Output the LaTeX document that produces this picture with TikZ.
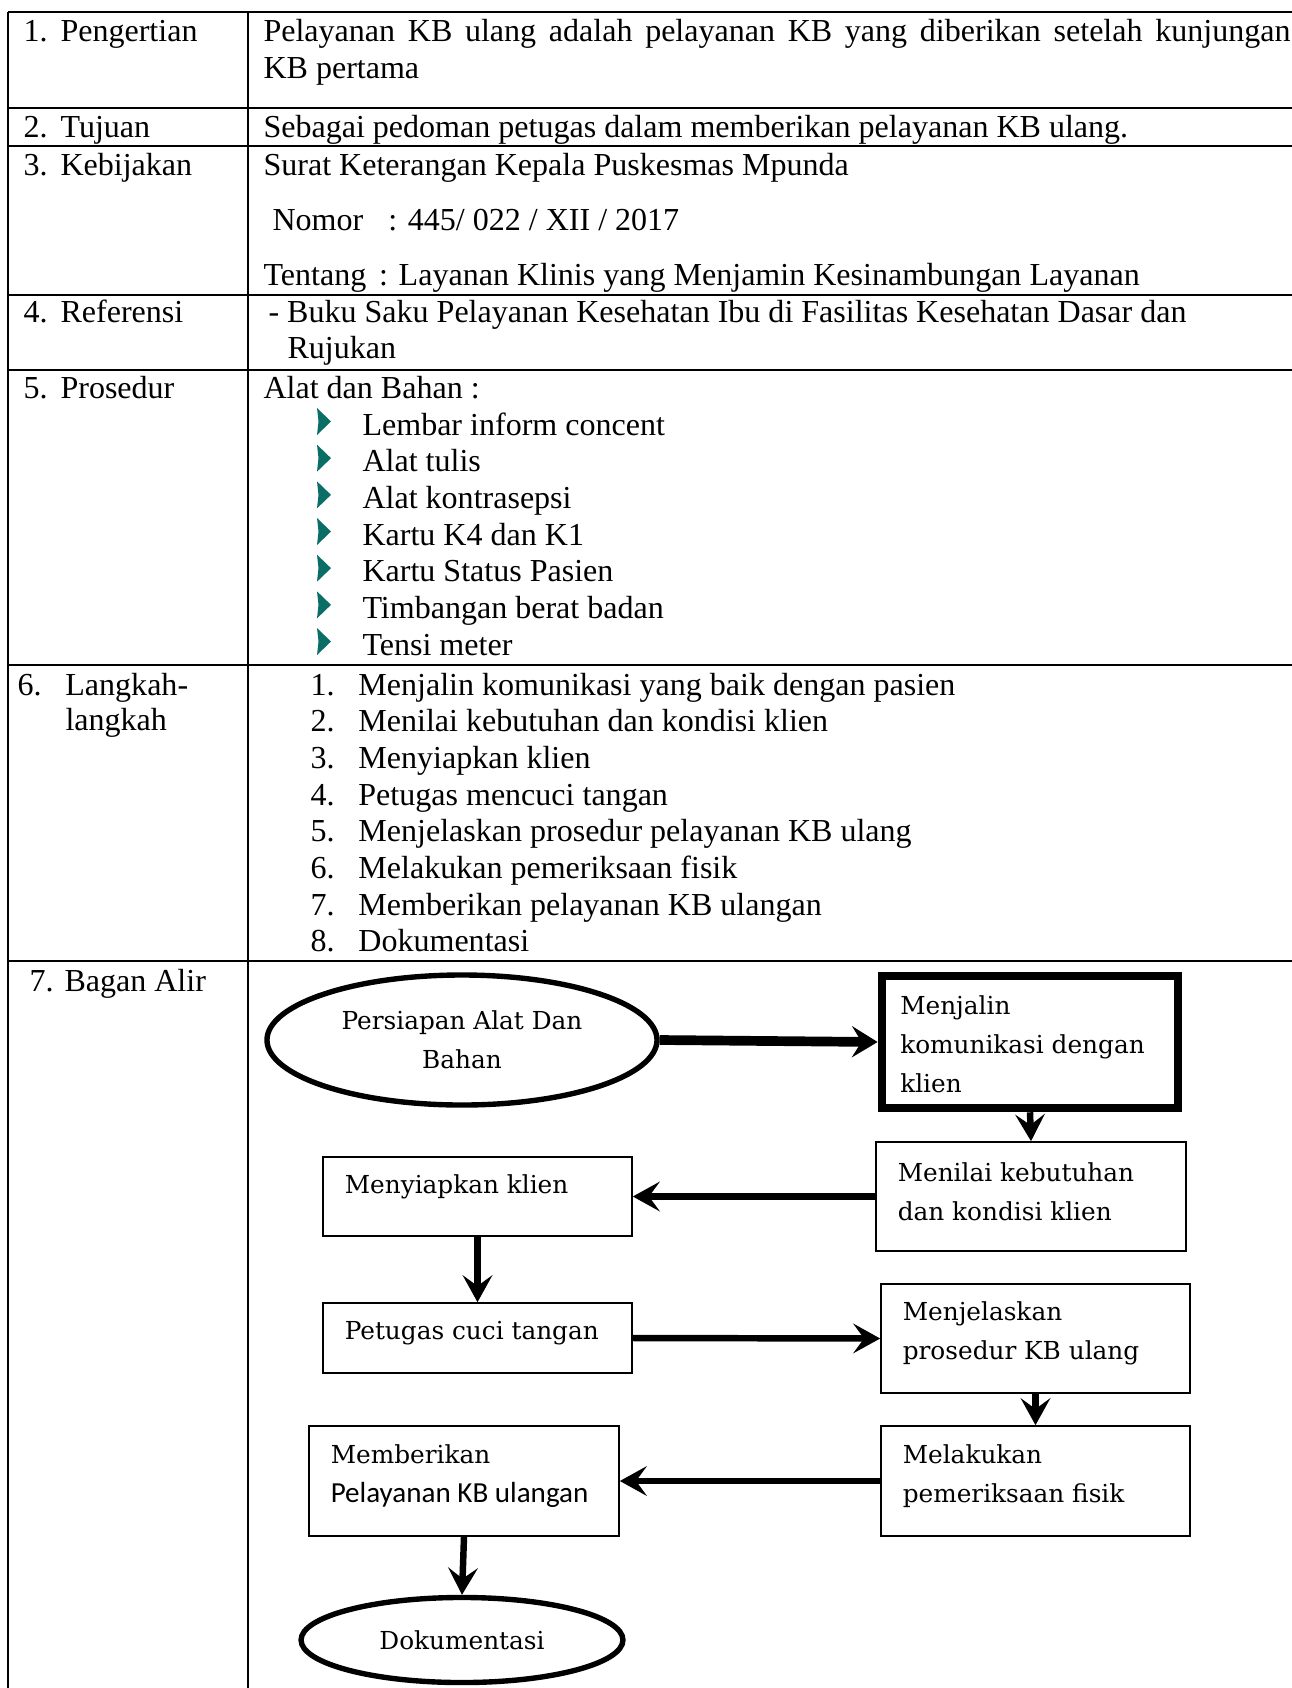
\documentclass[tikz,border=0pt]{standalone}
\usepackage{fontspec}
\setmainfont{Liberation Serif}
\newfontfamily\chartserif{DejaVu Serif}
\newfontfamily\chartsans{Carlito}
\usetikzlibrary{arrows.meta,shapes.geometric}
\definecolor{BulletTeal}{HTML}{0B6E66}
\tikzset{
    cell/.style={anchor=base west, inner sep=0, font=\fontsize{11.9}{13.75}\selectfont},
    tableline/.style={line width=1pt},
    flowbox/.style={rectangle, draw, line width=0.6pt, inner sep=0},
    startbox/.style={rectangle, draw, line width=3.2pt, inner sep=0},
    terminal/.style={ellipse, draw, line width=2pt, inner sep=0, align=center, font=\chartfont},
    boxtext/.style={anchor=west, inner sep=0, align=left, font=\chartfont},
    flow/.style={line width=2.4pt, -{Stealth[length=10pt, width=11pt, inset=4pt]}},
    bigflow/.style={line width=3.6pt, -{Stealth[length=9.5pt, width=11.5pt, inset=3.5pt]}},
}
\newcommand{\chartfont}{\chartserif\fontsize{9.2}{14.5}\selectfont}
\newcommand{\numlabel}[4]{%
    \node[cell] (#1) at (#2) {\makebox[13.75pt][l]{#3}#4};
}
\newcommand{\boxtext}[3][1.9pt]{%
    \node[boxtext, yshift=#1] (#2t) at ([xshift=8.2pt]#2.west) {#3};
}

\begin{document}
\begin{tikzpicture}[x=0.3715pt, y=-0.3715pt]
        \useasboundingbox (0,0) rectangle (1292,1688);
        % Table frame
        \draw[tableline] (8,12) -- (8,1688);
        \draw[tableline] (248,12) -- (248,1688);
        \foreach \ry in {12,108,146,295,370,665,961}
            \draw[tableline] (8,\ry) -- (1292,\ry);
        %
        % 1. Pengertian
        \numlabel{R1l}{23,41}{1.}{Pengertian}
        \node[cell] (R1a) at (263,41) {\makebox[381.5pt][s]{Pelayanan KB ulang adalah pelayanan KB yang diberikan setelah kunjungan}};
        \node[cell] (R1b) at (263,78) {KB pertama};
        %
        % 2. Tujuan
        \numlabel{R2l}{23,137}{2.}{Tujuan}
        \node[cell] (R2t) at (263,137) {Sebagai pedoman petugas dalam memberikan pelayanan KB ulang.};
        %
        % 3. Kebijakan
        \numlabel{R3l}{23,175}{3.}{Kebijakan}
        \node[cell] (R3a) at (263,175) {Surat Keterangan Kepala Puskesmas Mpunda};
        \node[cell] (R3b) at (272,230) {Nomor\hspace{9.3pt}: 445/ 022 / XII / 2017};
        \node[cell] (R3c) at (263,285) {Tentang\hspace{4.8pt}: Layanan Klinis yang Menjamin Kesinambungan Layanan};
        %
        % 4. Referensi
        \numlabel{R4l}{23,322}{4.}{Referensi}
        \node[cell] (R4a) at (268,322) {- Buku Saku Pelayanan Kesehatan Ibu di Fasilitas Kesehatan Dasar dan};
        \node[cell] (R4b) at (287,358) {Rujukan};
        %
        % 5. Prosedur
        \numlabel{R5l}{23,398}{5.}{Prosedur}
        \node[cell] (R5t) at (263,398) {Alat dan Bahan :};
        \foreach \entry [count=\n] in {Lembar inform concent, Alat tulis, Alat kontrasepsi,
            Kartu K4 dan K1, Kartu Status Pasien, Timbangan berat badan, Tensi meter}
        {
            \pgfmathsetmacro\by{435+36.67*(\n-1)}
            \fill[BulletTeal] (317,\by-27) -- (331,\by-13.5) -- (317,\by) -- (318.5,\by-13.5) -- cycle;
            \node[cell] (P\n) at (362,\by) {\entry};
        }
        %
        % 6. Langkah-langkah
        \node[cell] (R6l) at (17,695) {\makebox[17.8pt][l]{6.}Langkah-};
        \node[cell] (R6m) at (65,730) {langkah};
        \foreach \stp [count=\n] in {Menjalin komunikasi yang baik dengan pasien,
            Menilai kebutuhan dan kondisi klien, Menyiapkan klien, Petugas mencuci tangan,
            Menjelaskan prosedur pelayanan KB ulang, Melakukan pemeriksaan fisik,
            Memberikan pelayanan KB ulangan, Dokumentasi}
            \node[cell] (S\n) at (310,{695+36.7*(\n-1)}) {\makebox[17.8pt][l]{\n.}\stp};
        %
        % 7. Bagan Alir
        \node[cell] (R7l) at (29,991) {\makebox[13pt][l]{7.}Bagan Alir};
        %
        \node[terminal, minimum width=144.9pt, minimum height=48.3pt] (F1) at (462,1040) {Persiapan Alat Dan\\Bahan};
        \node[startbox, minimum width=110pt, minimum height=49pt] (F2) at (1030,1042) {};
        \boxtext[-0.7pt]{F2}{Menjalin\\komunikasi dengan\\klien}
        \node[flowbox, minimum width=115.2pt, minimum height=40.5pt] (F3) at (1031,1196.5) {};
        \boxtext{F3}{Menilai kebutuhan\\dan kondisi klien}
        \node[flowbox, minimum width=114.8pt, minimum height=29.3pt] (F4) at (477.5,1196.5) {};
        \boxtext[3.5pt]{F4}{Menyiapkan klien}
        \node[flowbox, minimum width=114.8pt, minimum height=26pt] (F5) at (477.5,1338) {};
        \boxtext{F5}{Petugas cuci tangan}
        \node[flowbox, minimum width=114.8pt, minimum height=40.5pt] (F6) at (1035.5,1338.5) {};
        \boxtext{F6}{Menjelaskan\\prosedur KB ulang}
        \node[flowbox, minimum width=114.8pt, minimum height=40.9pt] (F7) at (1035.5,1481) {};
        \boxtext{F7}{Melakukan\\pemeriksaan fisik}
        \node[flowbox, minimum width=115.2pt, minimum height=40.9pt] (F8) at (464,1481) {};
        \boxtext{F8}{Memberikan\\{\chartsans\fontsize{10.8}{14.5}\selectfont Pelayanan KB ulangan}}
        \node[terminal, minimum width=119.6pt, minimum height=31.6pt] (F9) at (462,1640) {Dokumentasi};
        %
        \draw[bigflow] (F1.east) -- (F2.west);
        \draw[flow] (F2.south) -- (F3.north);
        \draw[flow] (F3.west) -- (F4.east);
        \draw[flow] (F4.south) -- (F5.north);
        \draw[flow] (F5.east) -- (F6.west);
        \draw[flow] (F6.south) -- (F7.north);
        \draw[flow] (F7.west) -- (F8.east);
        \draw[flow] (F8.south) -- (F9.north);
    \end{tikzpicture}
\end{document}
